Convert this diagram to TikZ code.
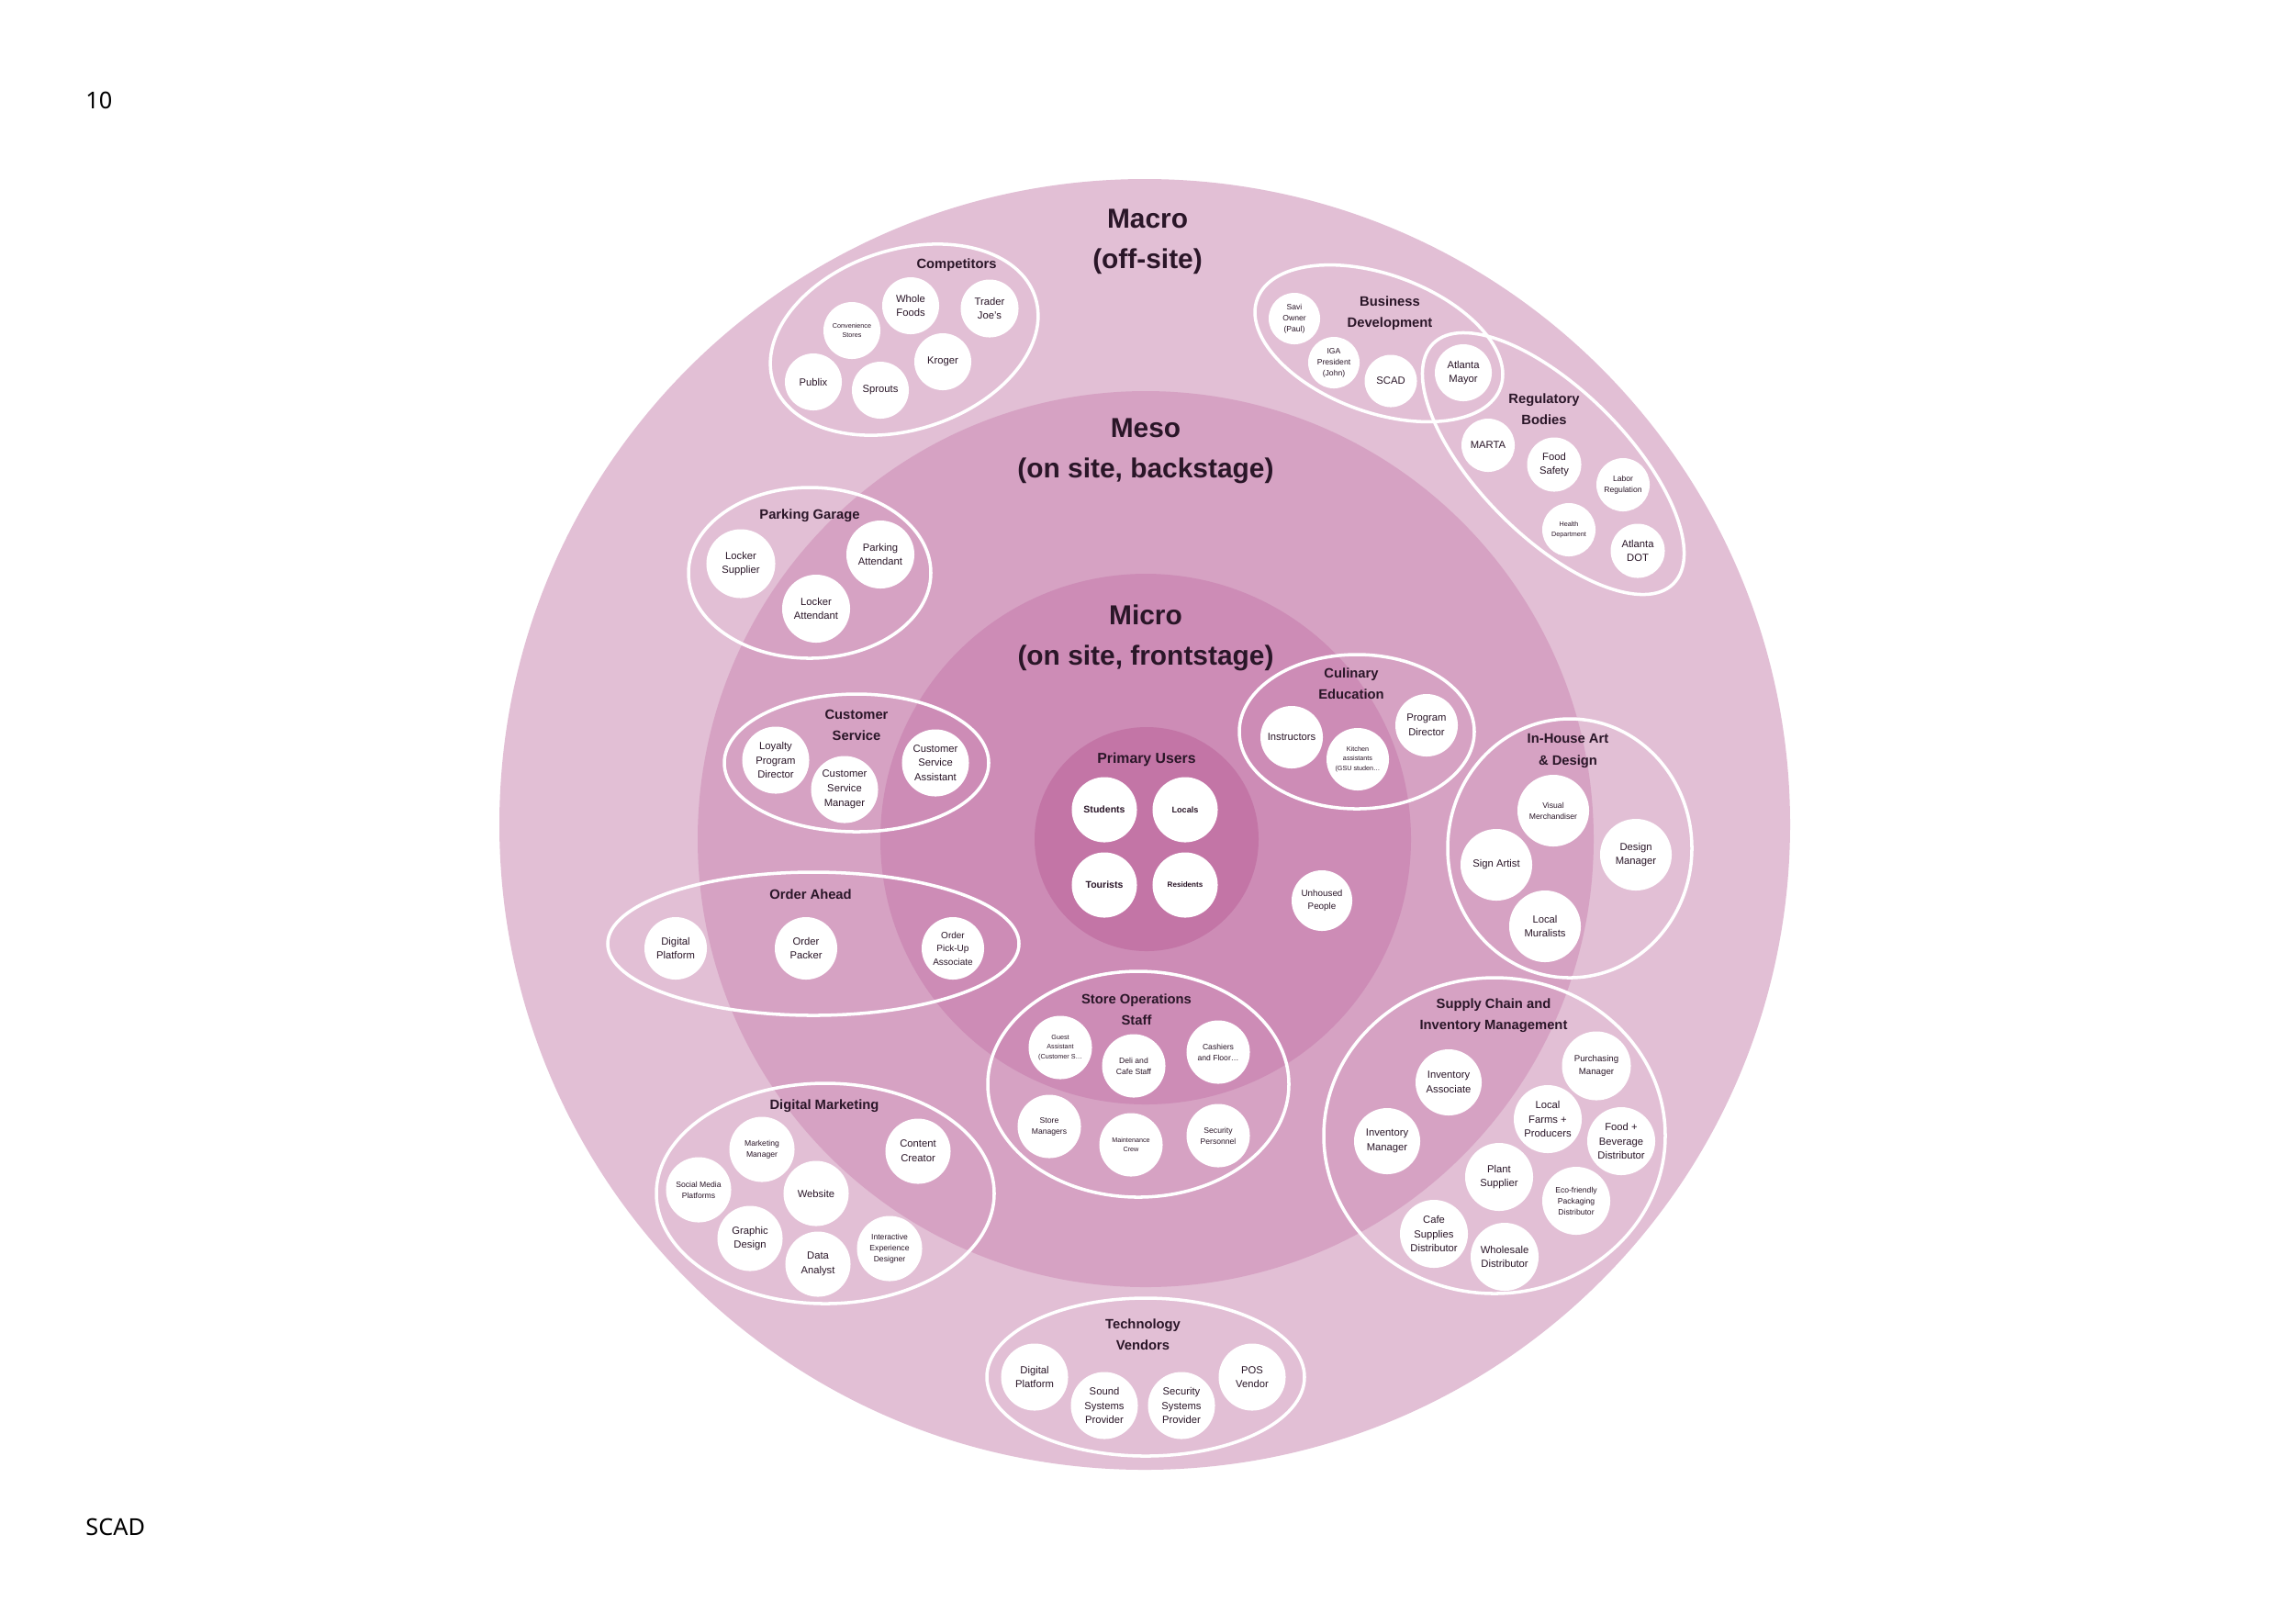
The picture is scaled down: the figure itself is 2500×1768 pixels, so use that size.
\documentclass[tikz,border=0pt]{standalone}
\usepackage{fontspec}
\setmainfont{Liberation Sans}
\newfontfamily\pagefont{Noto Sans}
\definecolor{macrofill}{HTML}{E2BFD5}
\definecolor{mesofill}{HTML}{D6A2C3}
\definecolor{microfill}{HTML}{CD8CB6}
\definecolor{corefill}{HTML}{C375A6}
\definecolor{ink}{HTML}{2A1628}
\tikzset{
  every node/.style={text=ink, align=center},
  role/.style={circle, fill=white, inner sep=0pt, minimum size=#1,
    font=\fontsize{3.2}{4.5}\selectfont},
  role/.default=0.72cm,
  rolesm/.style={role=#1, font=\fontsize{2.45}{3.4}\selectfont},
  rolesm/.default=0.72cm,
  roletiny/.style={role=#1, font=\fontsize{2.05}{3}\selectfont},
  roletiny/.default=0.72cm,
  user/.style={role=#1, font=\bfseries\fontsize{3}{4.5}\selectfont},
  user/.default=0.71cm,
  grp/.style={draw=white, line width=1pt},
  grplabel/.style={font=\bfseries\fontsize{4.2}{6.6}\selectfont},
  ringtitle/.style={font=\bfseries\fontsize{8.5}{12.5}\selectfont},
}
\begin{document}
\begin{tikzpicture}[x=0.01cm, y=-0.01cm]
\fill[white] (0,0) rectangle (2500,1768);
\useasboundingbox (0,0) rectangle (2500,1768);

% rings
\fill[macrofill] (1247,898) circle [radius=703];
\fill[mesofill] (1248,914) circle [radius=488];
\fill[microfill] (1248,914) circle [radius=289];
\fill[corefill] (1249,914) circle [radius=122];

\node[ringtitle] (macro) at (1250,263) {Macro\\(off-site)};
\node[ringtitle] (meso) at (1248,491) {Meso\\(on site, backstage)};
\node[ringtitle] (micro) at (1248,695) {Micro\\(on site, frontstage)};

% group outlines
\draw[grp, rotate around={18:(985,370)}] (985,370) ellipse [x radius=150, y radius=98];
\draw[grp, rotate around={-20:(1502,374)}] (1502,374) ellipse [x radius=141, y radius=75];
\draw[grp, rotate around={-45:(1692,505)}] (1692,505) ellipse [x radius=185, y radius=80];
\draw[grp] (882,624) ellipse [x radius=132, y radius=93];
\draw[grp] (933,831) ellipse [x radius=144, y radius=75];
\draw[grp] (1478,797) ellipse [x radius=128, y radius=84];
\draw[grp] (1710,924) ellipse [x radius=133, y radius=141];
\draw[grp] (886,1028) ellipse [x radius=224, y radius=78];
\draw[grp] (1240,1181) ellipse [x radius=164, y radius=123];
\draw[grp] (1628,1237) ellipse [x radius=186, y radius=172];
\draw[grp] (899,1300) ellipse [x radius=184, y radius=120];
\draw[grp] (1248,1500) ellipse [x radius=173, y radius=86];

% competitors
\node[grplabel] (competitors) at (1042,289) {Competitors};
\node[roletiny=0.62cm] (convenience) at (928,360) {Convenience\\Stores};
\node[role=0.62cm] (wholefoods) at (992,333) {Whole\\Foods};
\node[role=0.63cm] (traderjoes) at (1078,336) {Trader\\Joe’s};
\node[role=0.62cm] (kroger) at (1027,394) {Kroger};
\node[role=0.62cm] (publix) at (886,416) {Publix};
\node[role=0.62cm] (sprouts) at (959,425) {Sprouts};

% business development
\node[grplabel] (business) at (1514,341) {Business\\Development};
\node[rolesm=0.56cm] (savi) at (1410,347) {Savi\\Owner\\(Paul)};
\node[rolesm=0.56cm] (iga) at (1453,395) {IGA\\President\\(John)};
\node[role=0.57cm] (scad) at (1515,415) {SCAD};
\node[role=0.62cm] (mayor) at (1594,406) {Atlanta\\Mayor};

% regulatory bodies
\node[grplabel] (regulatory) at (1682,446) {Regulatory\\Bodies};
\node[role=0.58cm] (marta) at (1621,485) {MARTA};
\node[role=0.59cm] (foodsafety) at (1693,506) {Food\\Safety};
\node[rolesm=0.58cm] (labor) at (1768,528) {Labor\\Regulation};
\node[roletiny=0.58cm] (health) at (1709,577) {Health\\Department};
\node[role=0.59cm] (dot) at (1784,600) {Atlanta\\DOT};

% parking garage
\node[grplabel] (parking) at (882,562) {Parking Garage};
\node[role=0.75cm] (lockersup) at (807,614) {Locker\\Supplier};
\node[role=0.74cm] (parkatt) at (959,604) {Parking\\Attendant};
\node[role=0.74cm] (lockeratt) at (889,663) {Locker\\Attendant};

% customer service
\node[grplabel] (custservice) at (933,790) {Customer\\Service};
\node[role=0.73cm] (loyalty) at (845,828) {Loyalty\\Program\\Director};
\node[role=0.73cm] (csmanager) at (920,860) {Customer\\Service\\Manager};
\node[role=0.73cm] (csassist) at (1019,831) {Customer\\Service\\Assistant};

% culinary education
\node[grplabel] (culinary) at (1472,745) {Culinary\\Education};
\node[role=0.68cm] (instructors) at (1407,803) {Instructors};
\node[roletiny=0.68cm] (kitchen) at (1479,827) {Kitchen\\assistants\\(GSU studen…};
\node[role=0.68cm] (progdir) at (1554,790) {Program\\Director};

% in-house art
\node[grplabel] (inhouse) at (1708,818) {In-House Art\\\& Design};
\node[rolesm=0.78cm] (visual) at (1692,883) {Visual\\Merchandiser};
\node[role=0.78cm] (sign) at (1630,942) {Sign Artist};
\node[role=0.78cm] (designmgr) at (1782,931) {Design\\Manager};
\node[role=0.78cm] (muralists) at (1683,1009) {Local\\Muralists};

% order ahead
\node[grplabel] (orderahead) at (883,974) {Order Ahead};
\node[role=0.68cm] (oadigital) at (736,1033) {Digital\\Platform};
\node[role=0.68cm] (packer) at (878,1033) {Order\\Packer};
\node[role=0.68cm, font=\fontsize{2.85}{4.1}\selectfont] (pickup) at (1038,1033) {Order\\Pick-Up\\Associate};

% primary users
\node[grplabel, font=\bfseries\fontsize{4.5}{6.6}\selectfont] (primary) at (1249,827) {Primary Users};
\node[user] (students) at (1203,882) {Students};
\node[user, font=\bfseries\fontsize{2.6}{4}\selectfont] (locals) at (1291,882) {Locals};
\node[user] (tourists) at (1203,964) {Tourists};
\node[user, font=\bfseries\fontsize{2.3}{4}\selectfont] (residents) at (1291,964) {Residents};
\node[role=0.66cm, font=\fontsize{2.8}{4.1}\selectfont] (unhoused) at (1440,981) {Unhoused\\People};

% store operations
\node[grplabel] (storeops) at (1238,1100) {Store Operations\\Staff};
\node[roletiny=0.69cm] (guest) at (1155,1141) {Guest\\Assistant\\(Customer S…};
\node[rolesm=0.69cm] (deli) at (1235,1161) {Deli and\\Cafe Staff};
\node[rolesm=0.69cm] (cashiers) at (1327,1146) {Cashiers\\and Floor…};
\node[rolesm=0.69cm] (storemgr) at (1143,1227) {Store\\Managers};
\node[roletiny=0.69cm] (maintenance) at (1232,1247) {Maintenance\\Crew};
\node[rolesm=0.69cm] (security) at (1327,1237) {Security\\Personnel};

% supply chain
\node[grplabel] (supply) at (1627,1106) {Supply Chain and\\Inventory Management};
\node[role] (invassoc) at (1578,1179) {Inventory\\Associate};
\node[role] (invmgr) at (1511,1243) {Inventory\\Manager};
\node[role=0.75cm, font=\fontsize{2.75}{4}\selectfont] (purchasing) at (1739,1161) {Purchasing\\Manager};
\node[role=0.74cm] (farms) at (1686,1219) {Local\\Farms +\\Producers};
\node[role=0.74cm] (foodbev) at (1766,1243) {Food +\\Beverage\\Distributor};
\node[role=0.74cm] (plant) at (1633,1282) {Plant\\Supplier};
\node[rolesm=0.74cm] (eco) at (1717,1308) {Eco-friendly\\Packaging\\Distributor};
\node[role=0.74cm] (cafesup) at (1562,1344) {Cafe\\Supplies\\Distributor};
\node[role=0.74cm] (wholesale) at (1639,1369) {Wholesale\\Distributor};

% digital marketing
\node[grplabel] (digital) at (898,1205) {Digital Marketing};
\node[rolesm=0.71cm] (mktmgr) at (830,1252) {Marketing\\Manager};
\node[rolesm=0.71cm] (social) at (761,1296) {Social Media\\Platforms};
\node[role=0.71cm] (website) at (889,1300) {Website};
\node[role=0.71cm] (content) at (1000,1254) {Content\\Creator};
\node[role=0.71cm] (graphic) at (817,1349) {Graphic\\Design};
\node[role=0.71cm] (analyst) at (891,1377) {Data\\Analyst};
\node[rolesm=0.71cm] (interactive) at (969,1360) {Interactive\\Experience\\Designer};

% technology vendors
\node[grplabel] (tech) at (1245,1454) {Technology\\Vendors};
\node[role=0.73cm] (tvdigital) at (1127,1500) {Digital\\Platform};
\node[role=0.73cm] (sound) at (1203,1531) {Sound\\Systems\\Provider};
\node[role=0.73cm] (secsys) at (1287,1531) {Security\\Systems\\Provider};
\node[role=0.73cm] (pos) at (1364,1500) {POS\\Vendor};

% page marks
\node[anchor=west, text=black, font=\pagefont\fontsize{7.2}{8}\selectfont] (pagenum) at (81,109) {10};
\node[anchor=west, text=black, font=\pagefont\fontsize{7.2}{8}\selectfont] (school) at (81,1663) {SCAD};
\end{tikzpicture}
\end{document}
